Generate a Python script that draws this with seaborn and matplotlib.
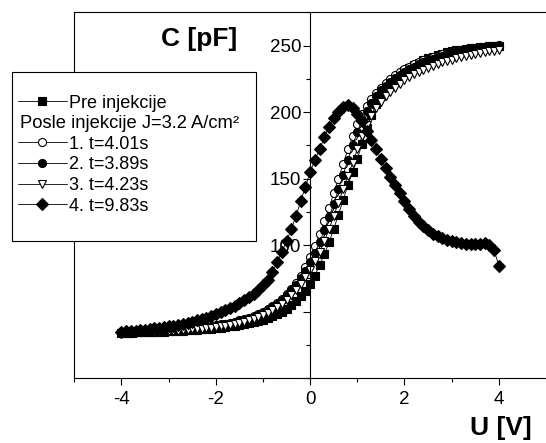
import numpy as np
import matplotlib.pyplot as plt
import seaborn as sns
from matplotlib.lines import Line2D
from matplotlib.patches import Rectangle
from matplotlib.ticker import MultipleLocator

# ---- data: C-V curves, U from -4 V to 4 V in 0.1 V steps ----
u = np.linspace(-4, 4, 81)

pre_inj = [34.0, 34.1, 34.2, 34.3, 34.4, 34.5, 34.6, 34.7, 34.8, 34.9, 35.0, 35.2, 35.4, 35.6, 35.8, 36.0, 36.3, 36.6, 36.9, 37.2, 37.6,
           38.0, 38.4, 38.9, 39.4, 40.0, 40.6, 41.3, 42.1, 43.0, 44.0,
           45.2, 46.6, 48.2, 50.0, 52.2, 54.8, 57.8, 61.5, 65.5, 70.5,
           77, 85, 93, 102, 112, 123, 134, 145, 155, 165,
           176, 188, 198, 206, 212, 217, 221, 225, 228, 231,
           233.5, 235.5, 237.3, 239, 240.5, 241.8, 243, 244, 245, 245.8,
           246.5, 247.1, 247.6, 248.1, 248.5, 248.9, 249.2, 249.5, 249.8, 250]

t1 = [34.0, 34.1, 34.2, 34.3, 34.5, 34.7, 34.9, 35.1, 35.3, 35.5, 35.8, 36.1, 36.4, 36.7, 37.0, 37.4, 37.8, 38.2, 38.7, 39.2, 39.7,
      40.3, 41.0, 41.7, 42.5, 43.4, 44.4, 45.5, 46.8, 48.2, 49.8,
      51.8, 54.0, 56.6, 59.6, 63.0, 67.0, 71.5, 77.0, 83.5, 91.0,
      99, 108, 118, 128, 139, 150, 161, 172, 182, 191,
      199, 205, 210, 214.5, 218.5, 222, 225, 227.7, 230, 232.2,
      234.2, 236, 237.6, 239, 240.3, 241.5, 242.6, 243.6, 244.5, 245.3,
      246, 246.7, 247.3, 247.8, 248.3, 248.8, 249.2, 249.5, 249.8, 250.2]

t2 = [34.0, 34.1, 34.2, 34.3, 34.4, 34.5, 34.7, 34.9, 35.1, 35.3, 35.5, 35.7, 36.0, 36.3, 36.6, 36.9, 37.3, 37.7, 38.1, 38.6, 39.1,
      39.7, 40.3, 41.0, 41.8, 42.7, 43.7, 44.8, 46.1, 47.5, 49.1,
      51.0, 53.2, 55.8, 58.8, 62.2, 66.0, 70.3, 75.0, 80.5, 87.0,
      94, 102, 111, 121, 131, 142, 153, 164, 175, 185,
      194, 201, 207, 212, 216.5, 220, 223, 225.8, 228.3, 230.5,
      232.5, 234.3, 236, 237.5, 238.9, 240.2, 241.4, 242.5, 243.5, 244.4,
      245.2, 246, 246.7, 247.3, 247.9, 248.4, 248.9, 249.3, 249.7, 250]

t3 = [34.0, 34.1, 34.2, 34.3, 34.4, 34.5, 34.6, 34.7, 34.9, 35.1, 35.3, 35.5, 35.7, 35.9, 36.2, 36.5, 36.8, 37.1, 37.5, 37.9, 38.3,
      38.8, 39.3, 39.9, 40.6, 41.4, 42.3, 43.3, 44.4, 45.7, 47.2,
      49.0, 51.0, 53.3, 56.0, 59.0, 62.5, 66.5, 71.0, 76.0, 81.5,
      88, 95, 103, 112, 122, 132, 142, 152, 162, 172,
      182, 190, 197, 203, 208, 212, 215.5, 218.5, 221.5, 224,
      226.3, 228.4, 230.3, 232, 233.5, 234.9, 236.2, 237.4, 238.5, 239.5,
      240.4, 241.3, 242.1, 242.9, 243.6, 244.3, 245, 245.7, 246.3, 247]

t4 = [34.5, 35.0, 35.3, 35.6, 36.0, 36.4, 36.8, 37.3, 37.8, 38.3, 38.9, 39.5, 40.2, 40.9, 41.7, 42.5, 43.4, 44.4, 45.5, 46.7, 48.0,
      49.4, 51.0, 52.7, 54.5, 56.5, 58.7, 61.0, 63.5, 66.5, 70.0,
      74.0, 80.0, 87.0, 95.0, 103.0, 112.0, 122.0, 133.0, 144.0, 155.0,
      164, 172, 181, 189, 195.5, 200.5, 204, 205.5, 203.5, 199,
      193, 186, 179, 172, 165, 158, 151, 145, 139, 133,
      127, 122, 117.5, 114, 111, 108.5, 106.5, 105, 103.8, 103,
      102.3, 101.7, 101.2, 100.8, 100.6, 100.8, 101.8, 100, 96, 84.5]

labels = ['Pre injekcije', '1. t=4.01s', '2. t=3.89s', '3. t=4.23s', '4. t=9.83s']
markers = ['s', 'o', 'o', 'v', 'D']
faces = ['black', 'white', 'black', 'white', 'black']

sns.set_style('ticks')
plt.rcParams['font.family'] = ['Liberation Sans', 'DejaVu Sans']
plt.rcParams['text.color'] = 'black'

fig = plt.figure(figsize=(5.46, 4.43), dpi=100)
ax = fig.add_axes([0.1361, 0.1467, 0.8639, 0.8251])

for vals, m, fc, lab in zip([pre_inj, t1, t2, t3, t4], markers, faces, labels):
    sns.lineplot(x=u, y=vals, ax=ax, color='black', lw=0.6, marker=m, ms=5.8,
                 mfc=fc, mec='black', mew=0.8, sort=False, estimator=None, legend=False)

ax.set_xlim(-5, 5)
ax.set_ylim(0, 275)
ax.set_xlabel('')
ax.set_ylabel('')

# y axis through U=0, frame on the left
ax.spines['left'].set_position(('data', 0))
ax.spines['right'].set_position(('data', -5))
for s in ax.spines.values():
    s.set_visible(True)
    s.set_color('black')
    s.set_linewidth(0.8)
ax.yaxis.set_ticks_position('left')
ax.xaxis.set_ticks_position('bottom')
ax.set_axisbelow(True)

ax.set_xticks([-4, -2, 0, 2, 4])
ax.set_xticklabels(['-4', '-2', '0', '2', '4'])
ax.xaxis.set_minor_locator(MultipleLocator(1))
ax.set_yticks([0, 50, 100, 150, 200, 250])
ax.set_yticklabels(['', '', '100', '150', '200', '250'])
ax.yaxis.set_minor_locator(MultipleLocator(25))
ax.tick_params(which='major', direction='out', length=5, width=0.8, color='black',
               labelsize=13.5, labelcolor='black')
ax.tick_params(axis='y', which='major', pad=1.5)
ax.tick_params(axis='x', which='major', pad=4)
ax.tick_params(which='minor', direction='out', length=3, width=0.8, color='black')

fig.text(199 / 546, 1 - 39 / 443, 'C [pF]', fontsize=19, fontweight='bold', ha='center', va='center')
fig.text(501 / 546, 1 - 428 / 443, 'U [V]', fontsize=19, fontweight='bold', ha='center', va='center')

# legend box
fig.patches.append(Rectangle((11.7 / 546, 1 - 241 / 443), (255.5 - 11.7) / 546, (241 - 72.3) / 443,
                             transform=fig.transFigure, facecolor='white', edgecolor='black',
                             lw=0.8, zorder=3))
handles = list(ax.get_lines())
blank = Line2D([], [], alpha=0)
leg = fig.legend([handles[0], blank] + handles[1:], [labels[0], ' '] + labels[1:],
                 loc='upper left', bbox_to_anchor=(18 / 546, 1 - 94.5 / 443),
                 borderaxespad=0, borderpad=0, frameon=False, handlelength=2.7,
                 handletextpad=0.15, labelspacing=0.2, fontsize=13)
leg.set_zorder(5)
fig.text(20 / 546, 1 - 123.5 / 443, 'Posle injekcije J=3.2 A/cm²', fontsize=13.2,
         ha='left', va='center', zorder=6)

fig.savefig('out.png', dpi=100)
